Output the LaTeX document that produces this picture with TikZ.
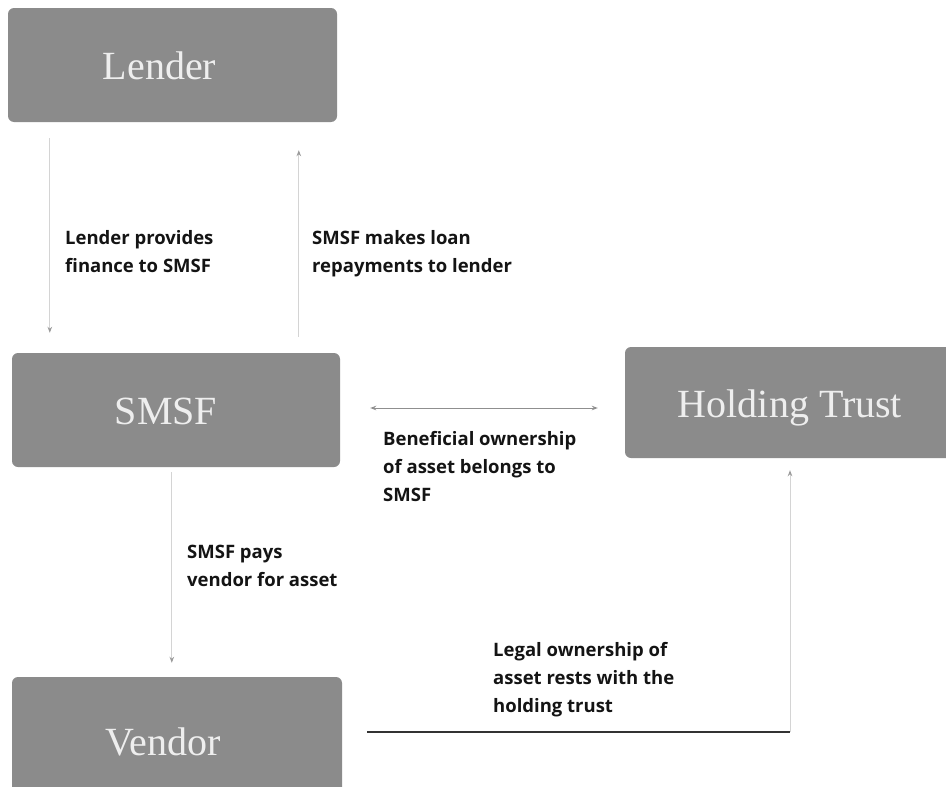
\documentclass[tikz,border=0pt]{standalone}
\usepackage{fontspec}
\setmainfont{Liberation Serif}
\newfontfamily\labfont{Open Sans}
\usetikzlibrary{arrows.meta}
\definecolor{boxgray}{HTML}{8B8B8B}
\definecolor{boxtext}{HTML}{EEEEEE}
\definecolor{lightline}{HTML}{D4D4D4}
\definecolor{headgray}{HTML}{9A9A9A}
\definecolor{midline}{HTML}{8F8F8F}
\definecolor{darkline}{HTML}{333333}
\begin{document}
\begin{tikzpicture}[x=1pt,y=-1pt,
  box/.style={fill=boxgray, rounded corners=6pt, inner sep=0pt,
    text=boxtext, font=\fontsize{40}{40}\selectfont,
    text height=29pt, text depth=0pt},
  lab/.style={anchor=north west, inner sep=0pt, align=left,
    font=\labfont\bfseries\fontsize{18.5}{28}\selectfont, text=black!92},
  lightarr/.style={draw=lightline, line width=1pt,
    -{Stealth[length=6pt,width=4.5pt,color=headgray]}},
  dblarr/.style={draw=midline, line width=1pt,
    {Stealth[length=6pt,width=4.5pt]}-{Stealth[length=6pt,width=4.5pt]}},
  darkseg/.style={draw=darkline, line width=1.1pt}
]
\useasboundingbox (0,0) rectangle (946,787);
\fill[white] (0,0) rectangle (946,787);

\node[box, minimum width=329pt, minimum height=114pt] (lender) at (172.5,65) {Lender\hspace*{26pt}};
\node[box, minimum width=328pt, minimum height=114pt] (smsf) at (176,410) {SMSF\hspace*{20pt}};
\node[box, minimum width=330pt, minimum height=111pt] (trust) at (790,402.5) {Holding Trust};
\node[box, minimum width=330pt, minimum height=128pt] (vendor) at (177,741) {Vendor\hspace*{28pt}};

% Lender -> SMSF
\draw[lightarr] ([xshift=42pt,yshift=-16pt]lender.south west) -- ([xshift=38pt,yshift=20pt]smsf.north west);
% SMSF -> Lender
\draw[lightarr] ([xshift=287pt,yshift=16pt]smsf.north west) -- ([xshift=291pt,yshift=-28pt]lender.south west);
% SMSF <-> Holding Trust
\coordinate (h1) at ([xshift=30pt,yshift=2pt]smsf.east);
\coordinate (h2) at ([xshift=-27pt]trust.west);
\draw[dblarr] (h1) -- (h1 -| h2);
% SMSF -> Vendor
\draw[lightarr] ([xshift=160pt,yshift=-5pt]smsf.south west) -- ([xshift=160pt,yshift=14pt]vendor.north west);
% Vendor -> Holding Trust
\coordinate (v1) at ([xshift=25pt,yshift=9pt]vendor.east);
\coordinate (corner) at (trust.south |- v1);
\draw[darkseg] (v1) -- (corner);
\draw[lightarr] (corner) -- ([yshift=-12pt]trust.south);

\node[lab] (l1) at (65,230) {Lender provides\\finance to SMSF};
\node[lab] (l2) at (312,230) {SMSF makes loan\\repayments to lender};
\node[lab] (l3) at (383,431) {Beneficial ownership\\of asset belongs to\\SMSF};
\node[lab] (l4) at (187,545) {SMSF pays\\vendor for asset};
\node[lab] (l5) at (493,642) {Legal ownership of\\asset rests with the\\holding trust};
\end{tikzpicture}
\end{document}
